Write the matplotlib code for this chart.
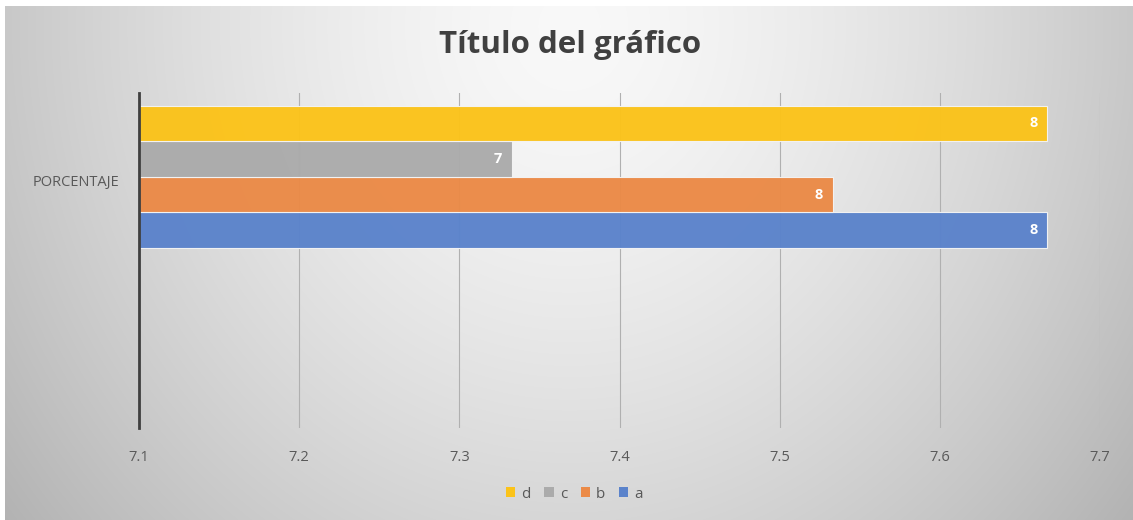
import numpy as np
import matplotlib
matplotlib.use("Agg")
import matplotlib.pyplot as plt
import matplotlib.transforms as mtransforms
from matplotlib.patches import Patch

categories = ["", "PORCENTAJE"]
series_names = ["a", "b", "c", "d"]
values_a = [np.nan, 7.667]
values_b = [np.nan, 7.533]
values_c = [np.nan, 7.333]
values_d = [np.nan, 7.667]
series_values = [values_a, values_b, values_c, values_d]
colors = ["#5B83CB", "#EB8A47", "#ABABAB", "#FBC31A"]
xticks = [7.1, 7.2, 7.3, 7.4, 7.5, 7.6, 7.7]

plt.rcParams['font.family'] = ['Open Sans', 'DejaVu Sans']

W, H = 1133, 520
fig = plt.figure(figsize=(W / 100, H / 100), dpi=100)
fig.patch.set_facecolor("white")

# background radial gradient
bg = fig.add_axes([5 / W, 0, 1 - 5 / W, 1 - 6 / H], zorder=-10)
yy, xx = np.mgrid[0:H - 6, 0:W - 5]
dx = (xx - (W - 5) / 2) / ((W - 5) / 2)
dy = (yy - 20) / 620
r = np.sqrt(dx ** 2 + dy ** 2)
val = 0.975 - 0.19 * np.clip(r, 0, 1.4) ** 1.5
img = np.dstack([val, val, val])
bg.imshow(np.clip(img, 0, 1), aspect="auto", interpolation="bilinear")
bg.set_axis_off()

ax = fig.add_axes([139 / W, 1 - 428 / H, (1100 - 139) / W, (428 - 93) / H])
ax.set_facecolor("none")

n = len(series_names)
h = 0.212
ypos = np.arange(len(categories))
for i, (name, vals, col) in enumerate(zip(series_names, series_values, colors)):
    off = (i - (n - 1) / 2) * h
    vals = np.array(vals, dtype=float)
    ax.barh(ypos + off, vals - 7.1, left=7.1, height=h, color=col,
            edgecolor="#f4f4f4", linewidth=0.8, label=name, zorder=3, alpha=0.97)
    for y, v in zip(ypos + off, vals):
        if np.isnan(v):
            continue
        ax.annotate(f"{v:.0f}", xy=(v, y), xytext=(-7, 0), textcoords="offset points",
                    ha="right", va="center", color="white", fontsize=10.5,
                    fontweight="bold", zorder=5)

ax.set_xlim(7.1, 7.7)
ax.set_ylim(-0.5, 1.5)
ax.set_xticks(xticks)
ax.set_xticklabels([f"{t:.1f}" for t in xticks], color="#595959", fontsize=10.5)
ax.set_yticks(ypos)
ax.set_yticklabels(categories, color="#595959", fontsize=10.5)
ax.tick_params(axis="x", length=0, pad=16)
ax.tick_params(axis="y", length=0, pad=14)
shift = mtransforms.ScaledTranslation(0, -4 / 100, fig.dpi_scale_trans)
for lbl in ax.get_yticklabels():
    lbl.set_transform(lbl.get_transform() + shift)
ax.grid(axis="x", color="#b0b0b0", linewidth=0.8, zorder=1)
ax.grid(axis="y", visible=False)
for s in ["top", "right", "bottom"]:
    ax.spines[s].set_visible(False)
ax.spines["left"].set_color("#3f3f3f")
ax.spines["left"].set_linewidth(2.0)
ax.spines["left"].set_zorder(6)

fig.text(0.503, 1 - 45 / H, "Título del gráfico", ha="center", va="center",
         fontsize=22.5, fontweight="bold", color="#404040")

handles = [Patch(facecolor=colors[i], edgecolor="none", label=series_names[i])
           for i in [3, 2, 1, 0]]
fig.legend(handles=handles, loc="center", bbox_to_anchor=(0.507, 1 - 494 / H),
           ncol=4, frameon=False, fontsize=11, labelcolor="#595959",
           handlelength=0.6, handleheight=0.6, handletextpad=0.4, columnspacing=0.9)

fig.savefig("out.png", dpi=100)
